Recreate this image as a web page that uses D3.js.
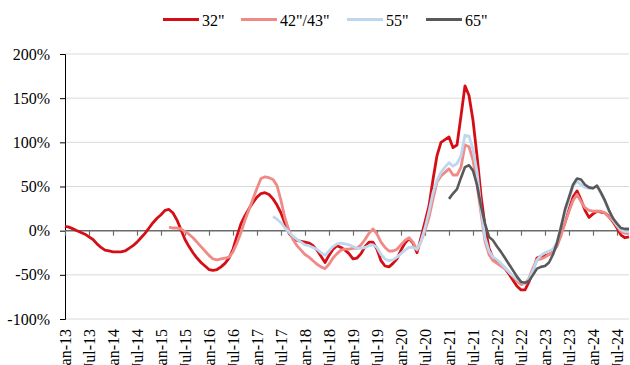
<!DOCTYPE html>
<html><head><meta charset="utf-8">
<script src="https://cdn.jsdelivr.net/npm/d3@7"></script>
<style>body{margin:0;background:#fff}svg{display:block}text{font-family:"Liberation Serif","Times New Roman",serif;fill:#000}</style>
</head><body><div id="chart"></div>
<script>
const months = d3.timeMonth.range(new Date(2013,0,1), new Date(2024,10,1)).map(d3.timeFormat("%b-%y"));
const tickLabels = ["Jan-13","Jul-13","Jan-14","Jul-14","Jan-15","Jul-15","Jan-16","Jul-16","Jan-17","Jul-17","Jan-18","Jul-18","Jan-19","Jul-19","Jan-20","Jul-20","Jan-21","Jul-21","Jan-22","Jul-22","Jan-23","Jul-23","Jan-24","Jul-24"];
const yTicks = [-100,-50,0,50,100,150,200];
const seriesNames = ['32"','42"/43"','55"','65"'];
const N = null;
const s32 = [5,4,2,0,-2,-4,-7,-10,-15,-19,-22,-23,-24,-24,-24,-23,-20,-17,-13,-8,-3,3,9,14,18,23,24,20,12,1,
-10,-18,-25,-31,-36,-40,-44,-45,-44,-41,-37,-31,-21,-6,8,17,25,32,38,42,43,41,36,29,20,8,-3,-8,-11,-12,
-13,-14,-17,-22,-29,-36,-28,-21,-17,-19,-22,-26,-32,-31,-26,-18,-13,-13,-21,-34,-40,-41,-37,-32,-22,-14,-9,-14,-25,-8,
10,28,58,85,100,103,106,94,97,130,164,153,125,85,40,5,-20,-31,-35,-39,-43,-49,-56,-63,-67,-67,-58,-45,-31,-29,
-28,-27,-24,-17,-3,9,24,38,45,35,23,15,19,22,21,20,16,10,3,-5,-8,-7];
const s42 = [N,N,N,N,N,N,N,N,N,N,N,N,N,N,N,N,N,N,N,N,N,N,N,N,N,N,4,3,3,2,
-1,-4,-8,-13,-18,-23,-28,-32,-33,-32,-31,-30,-24,-14,-2,12,24,36,48,59,61,60,58,51,34,14,0,-10,-17,-22,
-27,-30,-34,-38,-41,-43,-38,-31,-26,-22,-21,-21,-20,-20,-16,-10,-3,2,-4,-13,-19,-23,-23,-21,-16,-11,-8,-13,-22,-12,
0,15,36,55,62,66,70,63,63,72,97,95,80,52,20,-12,-27,-34,-37,-40,-43,-47,-52,-57,-61,-60,-54,-42,-33,-32,
-30,-27,-24,-17,-6,9,22,34,41,33,26,23,22,22,22,20,15,11,5,-1,-3,-3];
const s55 = [N,N,N,N,N,N,N,N,N,N,N,N,N,N,N,N,N,N,N,N,N,N,N,N,N,N,N,N,N,N,
N,N,N,N,N,N,N,N,N,N,N,N,N,N,N,N,N,N,N,N,N,N,16,13,9,3,-2,-6,-10,-13,
-16,-17,-19,-21,-25,-28,-23,-18,-15,-14,-15,-16,-18,-20,-20,-19,-17,-16,-19,-27,-32,-34,-33,-30,-26,-22,-19,-19,-21,-12,
3,22,43,57,66,72,77,73,76,85,108,107,92,67,25,-8,-23,-30,-33,-37,-42,-47,-51,-55,-58,-60,-55,-45,-33,-28,
-25,-23,-21,-13,5,20,35,50,56,52,49,48,48,50,42,33,22,13,6,1,-1,-1];
const s65 = [N,N,N,N,N,N,N,N,N,N,N,N,N,N,N,N,N,N,N,N,N,N,N,N,N,N,N,N,N,N,
N,N,N,N,N,N,N,N,N,N,N,N,N,N,N,N,N,N,N,N,N,N,N,N,N,N,N,N,N,N,
N,N,N,N,N,N,N,N,N,N,N,N,N,N,N,N,N,N,N,N,N,N,N,N,N,N,N,N,N,N,
N,N,N,N,N,N,36,42,47,60,72,74,68,52,28,8,-7,-11,-18,-24,-31,-38,-45,-52,-58,-59,-57,-50,-43,-41,
-40,-36,-27,-14,4,24,38,52,59,58,52,49,48,51,43,34,23,14,8,3,2,2];
const colors = ["#d50e16","#ef8a87","#bdd7ee","#595959"];

const W = 630, H = 365;
const svg = d3.select("#chart").append("svg").attr("width", W).attr("height", H);
svg.append("rect").attr("width", W).attr("height", H).attr("fill", "#fff");

const x = d3.scalePoint().domain(months).range([65, 629]);
const y = d3.scaleLinear().domain([-100, 200]).range([319, 54]);

// gridlines
svg.append("g").selectAll("line").data(yTicks.filter(d => d !== 0)).join("line")
  .attr("x1", 65).attr("x2", 629).attr("y1", d => y(d)).attr("y2", d => y(d))
  .attr("stroke", "#d9d9d9").attr("stroke-width", 1);

// y axis
const yAxis = svg.append("g").attr("transform", "translate(65,0)")
  .call(d3.axisLeft(y).tickValues(yTicks).tickFormat(d => d + "%").tickSize(5).tickPadding(10));
yAxis.select(".domain").attr("stroke", "#000").attr("stroke-width", 1);
yAxis.selectAll(".tick line").attr("stroke", "#000");
yAxis.selectAll("text").style("font-size", "16px").style("font-family", '"Liberation Serif","Times New Roman",serif');

// zero axis with ticks
const xAxis = svg.append("g").attr("transform", `translate(0,${y(0)})`)
  .call(d3.axisBottom(x).tickValues(tickLabels).tickSize(5).tickFormat(""));
xAxis.select(".domain").attr("stroke", "#6b6b6b").attr("stroke-width", 1.5).attr("d", `M65,0H629`);
xAxis.selectAll(".tick line").attr("stroke", "#6b6b6b").attr("stroke-width", 1.2);

// x labels at bottom
svg.append("g").selectAll("text").data(tickLabels).join("text")
  .attr("transform", d => `translate(${x(d)},329) rotate(-90)`)
  .attr("text-anchor", "end").attr("dy", "0.35em")
  .style("font-size", "16px").text(d => d);

// lines
const all = [s32, s42, s55, s65];
const line = d3.line().defined(d => d.v !== null).x(d => x(d.m)).y(d => y(d.v));
all.forEach((s, i) => {
  const pts = months.map((m, k) => ({m, v: s[k] === undefined ? null : s[k]}));
  svg.append("path").datum(pts).attr("d", line).attr("fill", "none")
    .attr("stroke", colors[i]).attr("stroke-width", i === 3 ? 2.6 : 2.8)
    .attr("stroke-linejoin", "round").attr("stroke-linecap", "butt");
});

// legend
const legX = [163, 241, 347, 426];
const lg = svg.append("g");
seriesNames.forEach((n, i) => {
  lg.append("line").attr("x1", legX[i]).attr("x2", legX[i] + 36).attr("y1", 19.5).attr("y2", 19.5)
    .attr("stroke", colors[i]).attr("stroke-width", 3);
  lg.append("text").attr("x", legX[i] + 39).attr("y", 25.5).style("font-size", "16px").text(n);
});
</script></body></html>
